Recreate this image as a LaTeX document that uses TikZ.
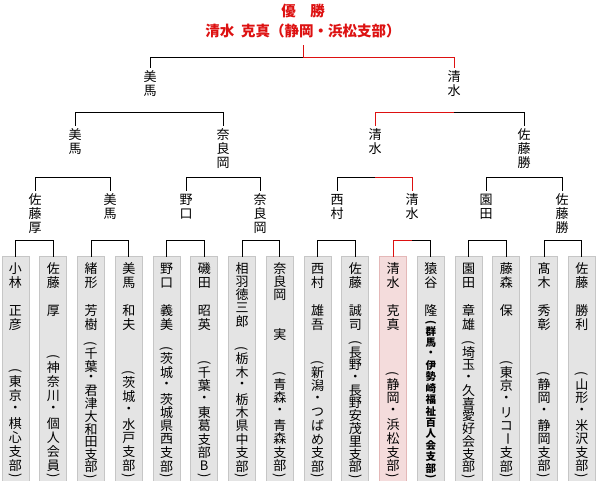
\documentclass[tikz,border=0pt]{standalone}
\usepackage{fontspec}
\usepackage{graphicx}
\setmainfont{Noto Sans CJK JP}
\definecolor{winred}{HTML}{DD1111}
\definecolor{boxgray}{HTML}{E4E4E4}
\definecolor{boxline}{HTML}{C6C6C6}
\definecolor{boxpink}{HTML}{F4DCDC}
\definecolor{pinkline}{HTML}{E4B8B8}
\newdimen\cellh \cellh=14pt
\newdimen\cellw \cellw=14pt
\newcommand\vcell[1]{%
  \ifx#1(\vbox to .5\cellh{\vss\hbox to \cellw{\hss\rotatebox{-90}{(}\hss}\vss}%
  \else\ifx#1)\vbox to .5\cellh{\vss\hbox to \cellw{\hss\rotatebox{-90}{)}\hss}\vss}%
  \else\ifx#1ー\vbox to \cellh{\vss\hbox to \cellw{\hss\rotatebox{-90}{ー}\hss}\vss}%
  \else\vbox to \cellh{\vss\hbox to \cellw{\hss#1\hss}\vss}%
  \fi\fi\fi}
\def\vstkA#1{\ifx#1\relax\else\vcell{#1}\expandafter\vstkA\fi}
\newcommand\vstk[1]{\vbox{\offinterlineskip\vstkA#1\relax}}
\newcommand\brk[6]{%
  \draw[#5] (#1.north) -- (#1.north |- 0,#4) -- (#3 |- 0,#4);
  \draw[#6] (#3 |- 0,#4) -- (#2.north |- 0,#4) -- (#2.north);}
\begin{document}
\begin{tikzpicture}[x=1pt,y=-1pt,
  ln/.style={line width=1pt,black,line cap=rect},
  wn/.style={line width=1pt,winred,line cap=rect},
  ttl/.style={inner sep=0pt,text=winred,font=\fontsize{14.5}{16}\selectfont\bfseries},
  nm/.style={inner sep=0pt,outer sep=3pt,anchor=north,font=\fontsize{13}{14}\selectfont},
  bx/.style={draw=boxline,fill=boxgray,line width=1pt,minimum width=27pt,minimum height=226pt,inner sep=0pt,anchor=north},
  bxw/.style={draw=pinkline,fill=boxpink},
  tx/.style={inner sep=0pt,outer sep=0pt,anchor=north,font=\fontsize{13}{14}\selectfont},
  ax/.style={inner sep=0pt,outer sep=0pt,anchor=south,font=\fontsize{13}{14}\selectfont},
  axs/.style={font=\fontsize{10.5}{12}\selectfont\bfseries}]
\useasboundingbox (0,0) rectangle (596,480);
% title
\node[ttl] (t1) at (303,11) {優　勝};
\node[ttl] (t2) at (303,31) {清水\hspace{.45em}克真（静岡・浜松支部）};
% boxes
\node[bx] (b1) at (15.5,256) {};
\node[bx] (b2) at (53.25,256) {};
\node[bx] (b3) at (91,256) {};
\node[bx] (b4) at (128.75,256) {};
\node[bx] (b5) at (166.5,256) {};
\node[bx] (b6) at (204.25,256) {};
\node[bx] (b7) at (242,256) {};
\node[bx] (b8) at (279.75,256) {};
\node[bx] (b9) at (317.5,256) {};
\node[bx] (b10) at (355.25,256) {};
\node[bx,bxw] (b11) at (393,256) {};
\node[bx] (b12) at (430.75,256) {};
\node[bx] (b13) at (468.5,256) {};
\node[bx] (b14) at (506.25,256) {};
\node[bx] (b15) at (544,256) {};
\node[bx] (b16) at (581.75,256) {};
% box texts
\node[tx] (n1) at (b1 |- 0,262) {\vstk{小林　正彦}};
\node[ax] (a1) at (b1 |- 0,479.5) {\cellh=14pt\vstk{(東京・棋心支部)}};
\node[tx] (n2) at (b2 |- 0,262) {\vstk{佐藤　厚}};
\node[ax] (a2) at (b2 |- 0,479.5) {\cellh=14pt\vstk{(神奈川・個人会員)}};
\node[tx] (n3) at (b3 |- 0,262) {\vstk{緒形　芳樹}};
\node[ax] (a3) at (b3 |- 0,479.5) {\cellh=12.6pt\vstk{(千葉・君津大和田支部)}};
\node[tx] (n4) at (b4 |- 0,262) {\vstk{美馬　和夫}};
\node[ax] (a4) at (b4 |- 0,479.5) {\cellh=13.8pt\vstk{(茨城・水戸支部)}};
\node[tx] (n5) at (b5 |- 0,262) {\vstk{野口　義美}};
\node[ax] (a5) at (b5 |- 0,479.5) {\cellh=13.4pt\vstk{(茨城・茨城県西支部)}};
\node[tx] (n6) at (b6 |- 0,262) {\vstk{磯田　昭英}};
\node[ax] (a6) at (b6 |- 0,479.5) {\cellh=13.4pt\vstk{(千葉・東葛支部B)}};
\node[tx] (n7) at (b7 |- 0,262) {\cellh=13.2pt\vstk{相羽徳三郎}};
\node[ax] (a7) at (b7 |- 0,479.5) {\cellh=13.4pt\vstk{(栃木・栃木県中支部)}};
\node[tx] (n8) at (b8 |- 0,262) {\cellh=13.2pt\vstk{奈良岡　　実}};
\node[ax] (a8) at (b8 |- 0,479.5) {\cellh=13.6pt\vstk{(青森・青森支部)}};
\node[tx] (n9) at (b9 |- 0,262) {\vstk{西村　雄吾}};
\node[ax] (a9) at (b9 |- 0,479.5) {\cellh=13.4pt\vstk{(新潟・つばめ支部)}};
\node[tx] (n10) at (b10 |- 0,262) {\vstk{佐藤　誠司}};
\node[ax] (a10) at (b10 |- 0,479.5) {\cellh=12.7pt\vstk{(長野・長野安茂里支部)}};
\node[tx] (n11) at (b11 |- 0,262) {\vstk{清水　克真}};
\node[ax] (a11) at (b11 |- 0,479.5) {\cellh=13.6pt\vstk{(静岡・浜松支部)}};
\node[tx] (n12) at (b12 |- 0,262) {\vstk{猿谷　隆}};
\node[ax,axs] (a12) at (b12 |- 0,479.5) {\cellh=11.4pt\cellw=12pt\vstk{(群馬・伊勢崎福祉百人会支部)}};
\node[tx] (n13) at (b13 |- 0,262) {\vstk{園田　章雄}};
\node[ax] (a13) at (b13 |- 0,479.5) {\cellh=12.7pt\vstk{(埼玉・久喜愛好会支部)}};
\node[tx] (n14) at (b14 |- 0,262) {\vstk{藤森　保}};
\node[ax] (a14) at (b14 |- 0,479.5) {\cellh=13.4pt\vstk{(東京・リコー支部)}};
\node[tx] (n15) at (b15 |- 0,262) {\vstk{髙木　秀彰}};
\node[ax] (a15) at (b15 |- 0,479.5) {\cellh=13.6pt\vstk{(静岡・静岡支部)}};
\node[tx] (n16) at (b16 |- 0,262) {\vstk{佐藤　勝利}};
\node[ax] (a16) at (b16 |- 0,479.5) {\cellh=13.6pt\vstk{(山形・米沢支部)}};
% round names
\node[nm] (r3a) at (150,67) {\vstk{美馬}};
\node[nm] (r3b) at (454,67) {\vstk{清水}};
\node[nm] (r2a) at (75,125) {\vstk{美馬}};
\node[nm] (r2b) at (223,125) {\vstk{奈良岡}};
\node[nm] (r2c) at (375,125) {\vstk{清水}};
\node[nm] (r2d) at (524,125) {\vstk{佐藤勝}};
\node[nm] (r1a) at (35,190) {\vstk{佐藤厚}};
\node[nm] (r1b) at (110,190) {\vstk{美馬}};
\node[nm] (r1c) at (186,190) {\vstk{野口}};
\node[nm] (r1d) at (260,190) {\vstk{奈良岡}};
\node[nm] (r1e) at (337,190) {\vstk{西村}};
\node[nm] (r1f) at (412,190) {\vstk{清水}};
\node[nm] (r1g) at (486,190) {\vstk{園田}};
\node[nm] (r1h) at (562,190) {\vstk{佐藤勝}};
% connectors
\draw[wn] ([yshift=-7pt]t2.south) -- (t2 |- 0,57);
\brk{r3a}{r3b}{t2}{57}{ln}{wn}
\brk{r2a}{r2b}{r3a}{112}{ln}{ln}
\brk{r2c}{r2d}{r3b}{112}{wn}{ln}
\brk{r1a}{r1b}{r2a}{177}{ln}{ln}
\brk{r1c}{r1d}{r2b}{177}{ln}{ln}
\brk{r1e}{r1f}{r2c}{177}{ln}{wn}
\brk{r1g}{r1h}{r2d}{177}{ln}{ln}
\brk{b1}{b2}{r1a}{240}{ln}{ln}
\brk{b3}{b4}{r1b}{240}{ln}{ln}
\brk{b5}{b6}{r1c}{240}{ln}{ln}
\brk{b7}{b8}{r1d}{240}{ln}{ln}
\brk{b9}{b10}{r1e}{240}{ln}{ln}
\brk{b11}{b12}{r1f}{240}{wn}{ln}
\brk{b13}{b14}{r1g}{240}{ln}{ln}
\brk{b15}{b16}{r1h}{240}{ln}{ln}
\end{tikzpicture}
\end{document}
